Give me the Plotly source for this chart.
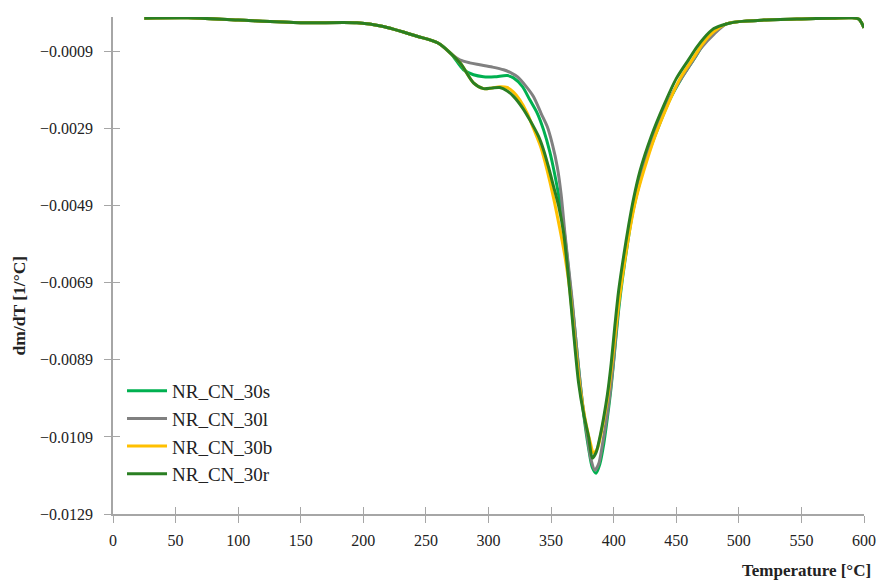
import plotly.graph_objects as go

# ---- data ----
common_x = [25, 60, 100, 150, 195, 215, 243, 260, 270]
common_y = [-0.00003, -0.00002, -0.00008, -0.00015, -0.00015, -0.00024, -0.0005, -0.00068, -0.00095]

tail_x = [490, 500, 520, 550, 575, 590, 596, 600]
tail_y = [-0.00018, -0.00012, -0.00008, -0.00005, -0.00003, -0.00002, -0.00006, -0.00028]

s_x = common_x + [280, 288, 296, 305, 315, 320, 327, 333, 339, 344, 349, 353, 357, 361, 364, 368, 372, 376, 380, 383, 386,
                  389, 392, 395, 398, 401, 404, 407, 411, 415, 420, 425, 434, 444, 454, 464, 472, 480] + tail_x
s_y = common_y + [-0.00137, -0.00150, -0.00155, -0.00155, -0.00152, -0.00158, -0.0018, -0.00215, -0.0025, -0.00293,
                  -0.0035, -0.0041, -0.0048, -0.0057, -0.0066, -0.0078, -0.0091, -0.0103, -0.0112, -0.0117, -0.01184,
                  -0.0116, -0.0111, -0.0104, -0.0096, -0.0086, -0.0076, -0.0068, -0.0059, -0.0051, -0.0044, -0.0038,
                  -0.0030, -0.0022, -0.0016, -0.0011, -0.0007, -0.0004] + tail_y

l_x = common_x + [277, 285, 293, 303, 312, 318, 323, 330, 336, 342, 347, 351, 355, 358, 361, 364, 367, 371, 375, 379, 382,
                  385, 388, 391, 394, 397, 400, 403, 406, 410, 414, 418, 423, 432, 442, 452, 462, 470, 480] + tail_x
l_y = common_y + [-0.00111, -0.00119, -0.00124, -0.0013, -0.00137, -0.00145, -0.00155, -0.0018, -0.00207, -0.0025,
                  -0.00285, -0.0033, -0.0039, -0.0046, -0.0056, -0.0065, -0.0074, -0.0088, -0.0100, -0.0109, -0.0115,
                  -0.01176, -0.0116, -0.0111, -0.0105, -0.0098, -0.0089, -0.0078, -0.0069, -0.0060, -0.0052, -0.0046,
                  -0.0040, -0.0031, -0.0023, -0.0017, -0.0012, -0.0008, -0.00045] + tail_y

b_x = common_x + [278, 288, 296, 303, 309, 315, 320, 325, 331, 336, 342, 347, 352, 357, 361, 365, 369, 373, 377, 381, 384,
                  387, 390, 393, 396, 399, 402, 405, 409, 413, 418, 424, 433, 443, 453, 463, 471, 480] + tail_x
b_y = common_y + [-0.00122, -0.00171, -0.00186, -0.00184, -0.00181, -0.00183, -0.00195, -0.00215, -0.0025, -0.0029,
                  -0.0034, -0.0040, -0.0047, -0.0055, -0.0062, -0.0071, -0.0084, -0.0096, -0.0104, -0.0110, -0.01132,
                  -0.0112, -0.0108, -0.0103, -0.0097, -0.0089, -0.0080, -0.0072, -0.0063, -0.0055, -0.0047, -0.0040,
                  -0.0031, -0.0023, -0.0016, -0.0011, -0.0007, -0.00038] + tail_y

r_x = common_x + [278, 288, 296, 303, 309, 315, 320, 327, 333, 340, 344, 348, 352, 356, 360, 364, 368, 372, 376, 380, 383,
                  386, 389, 392, 395, 398, 401, 404, 408, 412, 416, 421, 430, 440, 450, 460, 466, 472, 480] + tail_x
r_y = common_y + [-0.00122, -0.00171, -0.00186, -0.00184, -0.00183, -0.00192, -0.00206, -0.00235, -0.00267, -0.0031,
                  -0.00345, -0.0039, -0.0044, -0.0049, -0.0056, -0.0068, -0.0082, -0.0095, -0.0103, -0.0109, -0.01145,
                  -0.0113, -0.0109, -0.0104, -0.0098, -0.0090, -0.0080, -0.0071, -0.0062, -0.0054, -0.0047, -0.0040,
                  -0.0031, -0.0023, -0.0016, -0.0011, -0.0008, -0.00055, -0.0003] + tail_y

series = [
    ("NR_CN_30s", s_x, s_y, "#00B050"),
    ("NR_CN_30l", l_x, l_y, "#808080"),
    ("NR_CN_30b", b_x, b_y, "#FFC000"),
    ("NR_CN_30r", r_x, r_y, "#2A7F22"),
]

x_ticks = list(range(0, 601, 50))
y_ticks = [-0.0129, -0.0109, -0.0089, -0.0069, -0.0049, -0.0029, -0.0009]
y_labels = ["\u22120.0129", "\u22120.0109", "\u22120.0089", "\u22120.0069", "\u22120.0049", "\u22120.0029", "\u22120.0009"]
y_range = [-0.0129, 0.0]
x_range = [0, 600]

FONT = "Liberation Serif"

fig = go.Figure()
for name, xs, ys, col in series:
    fig.add_trace(go.Scatter(x=xs, y=ys, mode="lines", name=name,
                             line=dict(color=col, width=3, shape="spline", smoothing=0.8)))

# overlay axes only for the inner half of the crossing tick marks
fig.add_trace(go.Scatter(x=[None], y=[None], xaxis="x2", yaxis="y2", showlegend=False, hoverinfo="skip"))

axis_col = "#A6A6A6"
fig.update_layout(
    width=878, height=581,
    margin=dict(l=113, r=14, t=17, b=67),
    paper_bgcolor="white", plot_bgcolor="white",
    font=dict(family=FONT, size=16, color="#222222"),
    showlegend=True,
    legend=dict(x=0.012, y=0.286, xanchor="left", yanchor="top",
                bgcolor="rgba(0,0,0,0)", font=dict(family=FONT, size=19, color="#222222"),
                tracegroupgap=0, itemwidth=40),
    xaxis=dict(range=x_range, tickvals=x_ticks, showgrid=False, zeroline=False, automargin=False,
               showline=True, linecolor=axis_col, linewidth=1.5,
               ticks="outside", ticklen=7, tickcolor=axis_col, tickwidth=1.2,
               ticklabelstandoff=4),
    yaxis=dict(range=y_range, tickvals=y_ticks, ticktext=y_labels, automargin=False,
               showgrid=False, zeroline=False,
               showline=True, linecolor=axis_col, linewidth=1.5,
               ticks="outside", ticklen=7, tickcolor=axis_col, tickwidth=1.2,
               ticklabelstandoff=8),
    xaxis2=dict(range=x_range, tickvals=x_ticks, overlaying="x", anchor="y2", showgrid=False, zeroline=False,
                showline=False, ticks="inside", ticklen=7, tickcolor=axis_col, tickwidth=1.2,
                showticklabels=False, side="bottom", automargin=False),
    yaxis2=dict(range=y_range, tickvals=y_ticks, overlaying="y", anchor="x2", showgrid=False, zeroline=False,
                showline=False, ticks="inside", ticklen=7, tickcolor=axis_col, tickwidth=1.2,
                showticklabels=False, side="left", automargin=False),
    annotations=[
        dict(text="<b>Temperature [°C]</b>", xref="paper", yref="paper", x=1.012, y=-0.1127,
             xanchor="right", yanchor="middle", showarrow=False,
             font=dict(family=FONT, size=17, color="#222222")),
        dict(text="<b>dm/dT [1/°C]</b>", xref="paper", yref="paper", x=-0.125, y=0.42,
             xanchor="center", yanchor="middle", textangle=-90, showarrow=False,
             font=dict(family=FONT, size=17.5, color="#222222")),
    ],
)

fig.write_html("out.html")
